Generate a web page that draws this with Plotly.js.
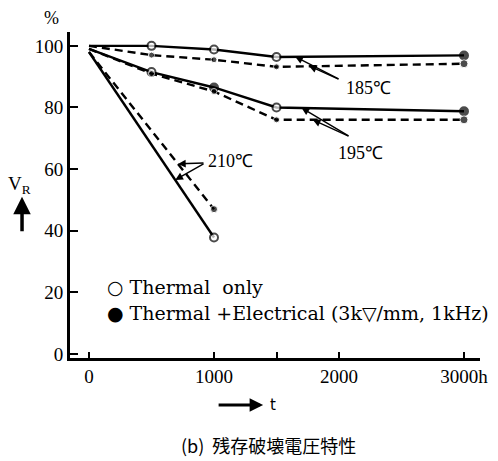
<!DOCTYPE html>
<html>
<head>
<meta charset="utf-8">
<script src="https://cdn.plot.ly/plotly-3.0.1.min.js"></script>
<style>
  html, body { margin: 0; padding: 0; background: #fff; }
  #chart { width: 498px; height: 461px; }
</style>
</head>
<body>
<div id="chart"></div>
<script>
// ---- data ----
const hours = [0, 500, 1000, 1500, 3000];
const hours210 = [0, 1000];
const v185Thermal = [100, 100, 98.8, 96.4, 96.9];
const v185Elec    = [100, 97.0, 95.5, 93.2, 94.2];
const v195Thermal = [99, 91.5, 86.5, 80.0, 78.8];
const v195Elec    = [99, 91.0, 85.2, 76.0, 76.0];
const v210Thermal = [98, 37.8];
const v210Elec    = [98, 47.0];
const xTickVals = [0, 1000, 1500, 2000, 3000];
const xTickText = ['0', '1000', '', '2000', '3000h'];
const yTickVals = [0, 20, 40, 60, 80, 100];
const tempLabels = ['185℃', '195℃', '210℃'];
const legendLabels = ['○ Thermal  only', '● Thermal +Electrical (3k▽/mm, 1kHz)'];
const caption = '(b)  残存破壊電圧特性';

const serif = 'Liberation Serif';
const black = '#000';

// fill: true = filled dot, false = open circle
function solidTrace(x, y, sizes, fills) {
  return {
    x: x, y: y, type: 'scatter', mode: 'lines+markers', showlegend: false,
    line: { color: black, width: 2.4 },
    marker: { size: sizes, symbol: 'circle',
      color: fills.map(function (f) { return f ? black : '#fff'; }),
      line: { color: black, width: 2 } },
    cliponaxis: false
  };
}
function dashTrace(x, y, sizes) {
  return {
    x: x, y: y, type: 'scatter', mode: 'lines+markers', showlegend: false,
    line: { color: black, width: 2.4, dash: '8px,5px' },
    marker: { size: sizes, symbol: 'circle', color: black },
    cliponaxis: false
  };
}

const traces = [
  solidTrace(hours, v185Thermal, [0, 8, 8, 8, 8], [true, false, false, false, true]),
  dashTrace(hours, v185Elec, [0, 6, 6, 6, 8]),
  solidTrace(hours, v195Thermal, [0, 8, 8, 8, 8], [true, false, true, false, true]),
  dashTrace(hours, v195Elec, [0, 6, 6, 6, 8]),
  solidTrace(hours210, v210Thermal, [0, 8], [true, false]),
  dashTrace(hours210, v210Elec, [0, 7])
];

function leader(x, y, ax, ay) {
  return { x: x, y: y, ax: ax, ay: ay, xref: 'x', yref: 'y', axref: 'x', ayref: 'y',
    text: '', showarrow: true, arrowhead: 2, arrowsize: 1.1, arrowwidth: 1.4, arrowcolor: black };
}
function note(x, y, text, font, xanchor) {
  return { x: x, y: y, xref: 'paper', yref: 'paper', text: text, showarrow: false,
    xanchor: xanchor || 'center', yanchor: 'middle', font: font };
}
function dataLabel(x, y, text, font, xanchor) {
  return { x: x, y: y, xref: 'x', yref: 'y', text: text, showarrow: false,
    xanchor: xanchor || 'center', yanchor: 'middle', font: font };
}

const tempFont = { family: serif, size: 18, color: black };
const legFont = { family: 'DejaVu Serif', size: 19, color: black };

const annotations = [
  dataLabel(2232, 86.4, tempLabels[0], tempFont),
  dataLabel(2168, 65.3, tempLabels[1], tempFont),
  dataLabel(1128, 62.7, tempLabels[2], tempFont),
  leader(1650, 96.5, 2008, 89),
  leader(1760, 93.5, 2008, 89),
  leader(1700, 79.9, 2088, 70.5),
  leader(1790, 76.0, 2088, 70.5),
  leader(712, 61.7, 928, 62),
  leader(690, 56.5, 928, 62),
  dataLabel(128, 21.8, legendLabels[0], legFont, 'left'),
  dataLabel(128, 13.3, legendLabels[1], legFont, 'left'),
  note(-0.122, 0.531, 'V<sub>R</sub>', { family: serif, size: 19, color: black }),
  { x: -0.117, y: 0.495, xref: 'paper', yref: 'paper', text: '', showarrow: true,
    ax: 0, ay: 36, arrowhead: 2, arrowsize: 1, arrowwidth: 3.5, arrowcolor: black },
  note(-0.046, 1.043, '%', { family: serif, size: 18, color: black }),
  { x: 0.471, y: -0.144, xref: 'paper', yref: 'paper', text: '', showarrow: true,
    ax: -46, ay: 0, arrowhead: 2, arrowsize: 0.9, arrowwidth: 3, arrowcolor: black },
  note(0.482, -0.144, 't', { family: 'DejaVu Sans', size: 15, color: black }, 'left'),
  note(0.485, -0.267, caption, { family: 'Noto Sans CJK JP', size: 18, color: black })
];

const layout = {
  width: 498, height: 461,
  margin: { l: 70, r: 18, t: 32, b: 103 },
  paper_bgcolor: '#fff', plot_bgcolor: '#fff',
  showlegend: false,
  xaxis: {
    range: [-152, 3128], tickvals: xTickVals, ticktext: xTickText,
    ticks: 'inside', ticklen: 6, tickwidth: 2, tickcolor: black,
    showline: true, linewidth: 2.5, linecolor: black, showgrid: false, zeroline: false,
    tickfont: { family: serif, size: 19, color: black }
  },
  yaxis: {
    range: [-1.3, 104.5], tickvals: yTickVals,
    ticks: 'inside', ticklen: 8, tickwidth: 2, tickcolor: black,
    showline: true, linewidth: 3, linecolor: black, showgrid: false, zeroline: false,
    tickfont: { family: serif, size: 19, color: black }
  },
  annotations: annotations
};

Plotly.newPlot('chart', traces, layout, { staticPlot: true, displayModeBar: false });
</script>
</body>
</html>
